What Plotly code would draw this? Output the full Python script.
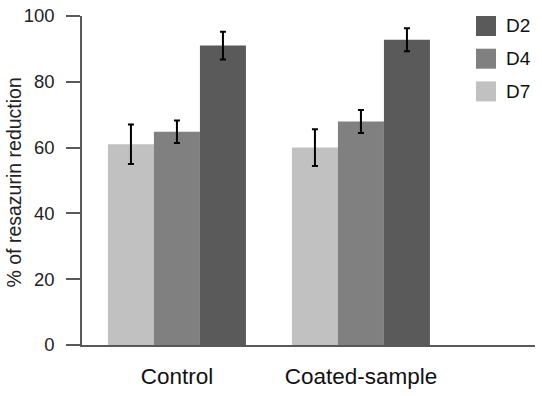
import plotly.graph_objects as go

categories = ["Control", "Coated-sample"]
series_names = ["D7", "D4", "D2"]
values = {
    "D7": [61.0, 60.0],
    "D4": [64.8, 67.9],
    "D2": [91.0, 92.8],
}
errors = {
    "D7": [6.0, 5.6],
    "D4": [3.4, 3.5],
    "D2": [4.2, 3.5],
}
colors = {"D7": "#c1c1c1", "D4": "#808080", "D2": "#5a5a5a"}
y_ticks = [0, 20, 40, 60, 80, 100]

W, H = 542, 396
ML, MR, MT, MB = 82, 7, 16, 51
PW, PH = W - ML - MR, H - MT - MB

fig = go.Figure()
for name in series_names:
    fig.add_trace(go.Bar(
        x=categories, y=values[name], name=name,
        marker=dict(color=colors[name], line=dict(width=0)),
        error_y=dict(type="data", array=errors[name], visible=True,
                     color="#000000", thickness=2, width=3),
        showlegend=False,
    ))

FONT = "Liberation Sans, Arial, sans-serif"

# Custom legend (D2 top, D4, D7)
legend_order = ["D2", "D4", "D7"]
shapes = []
annotations = []
for i, name in enumerate(legend_order):
    top_px = 16 + i * 32.7
    bot_px = top_px + 20
    x0 = (476 - ML) / PW
    x1 = (496 - ML) / PW
    y0 = 1 - (bot_px - MT) / PH
    y1 = 1 - (top_px - MT) / PH
    shapes.append(dict(type="rect", xref="paper", yref="paper",
                       x0=x0, x1=x1, y0=y0, y1=y1,
                       fillcolor=colors[name], line=dict(width=0)))
    annotations.append(dict(xref="paper", yref="paper",
                            x=(504 - ML) / PW, y=(y0 + y1) / 2,
                            text=name, showarrow=False,
                            xanchor="left", yanchor="middle",
                            font=dict(family=FONT, size=19, color="#111111")))

annotations.append(dict(xref="paper", yref="paper", x=0, y=0.5,
                        xshift=13 - ML, yshift=-2, text="% of resazurin reduction",
                        textangle=-90, showarrow=False,
                        xanchor="center", yanchor="middle",
                        font=dict(family=FONT, size=19.5, color="#222222")))

fig.update_layout(
    width=W, height=H,
    margin=dict(l=ML, r=MR, t=MT, b=MB, autoexpand=False),
    paper_bgcolor="white", plot_bgcolor="white",
    barmode="group", bargap=0.25, bargroupgap=0,
    font=dict(family=FONT, color="#222222"),
    shapes=shapes, annotations=annotations,
    showlegend=False,
)
fig.update_xaxes(
    range=[-0.516, 1.946], showline=True, linecolor="#595959", linewidth=1.5,
    ticks="", showgrid=False, zeroline=False,
    tickfont=dict(family=FONT, size=22.5, color="#111111"),
    ticklabelstandoff=10,
)
fig.update_yaxes(
    range=[0, 100], tickvals=y_ticks, showline=True, linecolor="#595959",
    linewidth=1.5, ticks="outside", ticklen=14, tickcolor="#595959", tickwidth=1.5,
    showgrid=False, zeroline=False,
    tickfont=dict(family=FONT, size=18.5, color="#222222"),
    ticklabelstandoff=8,
)

fig.write_html(
    "out.html",
    config={"displayModeBar": False},
    post_script="document.body.style.margin='0';document.body.style.padding='0';document.body.style.overflow='hidden';",
)
